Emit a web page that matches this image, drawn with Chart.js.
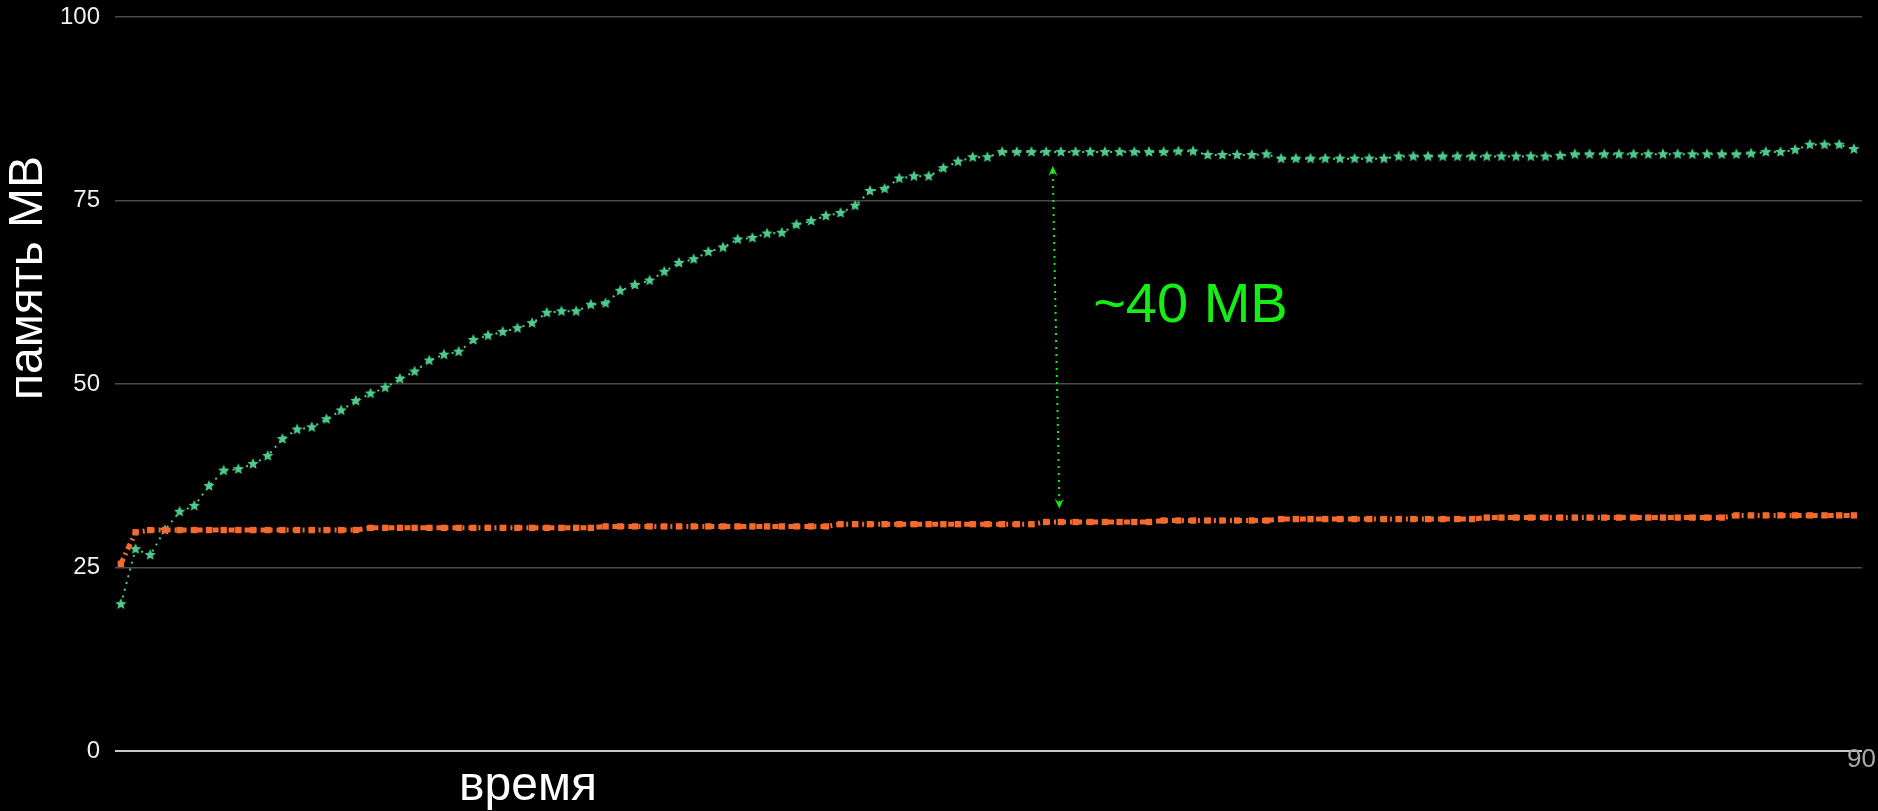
<!DOCTYPE html>
<html>
<head>
<meta charset="utf-8">
<script src="https://cdn.jsdelivr.net/npm/chart.js@4/dist/chart.umd.min.js"></script>
<style>
  html, body { margin: 0; padding: 0; background: #000; overflow: hidden; }
  canvas { display: block; }
</style>
</head>
<body>
<canvas id="memChart" width="1878" height="811"></canvas>
<script>
// память (MB) по отсчётам времени
const greenMem = [
  20.0, 27.5, 26.7, 30.1, 32.6, 33.4, 36.1, 38.2, 38.4, 39.1,
  40.2, 42.5, 43.8, 44.1, 45.2, 46.4, 47.7, 48.7, 49.5, 50.7,
  51.7, 53.2, 54.0, 54.4, 56.0, 56.6, 57.1, 57.6, 58.3, 59.7,
  59.9, 59.9, 60.8, 61.0, 62.7, 63.5, 64.1, 65.3, 66.5, 67.0,
  68.0, 68.6, 69.7, 69.9, 70.5, 70.6, 71.7, 72.2, 72.9, 73.3,
  74.3, 76.3, 76.6, 78.0, 78.3, 78.3, 79.4, 80.3, 80.9, 80.9,
  81.6, 81.6, 81.6, 81.6, 81.6, 81.6, 81.6, 81.6, 81.6, 81.6,
  81.6, 81.6, 81.7, 81.7, 81.2, 81.2, 81.2, 81.2, 81.3, 80.7,
  80.7, 80.7, 80.7, 80.7, 80.7, 80.7, 80.7, 81.0, 81.0, 81.0,
  81.0, 81.0, 81.0, 81.0, 81.0, 81.0, 81.0, 81.0, 81.1, 81.3,
  81.3, 81.3, 81.3, 81.3, 81.3, 81.3, 81.3, 81.3, 81.3, 81.3,
  81.3, 81.4, 81.6, 81.6, 81.9, 82.6, 82.6, 82.6, 82.0
];

const orangeMem = [
  25.5, 29.8, 30.1, 30.1, 30.1, 30.1, 30.1, 30.1, 30.1, 30.1,
  30.1, 30.1, 30.1, 30.1, 30.1, 30.1, 30.1, 30.4, 30.4, 30.4,
  30.4, 30.4, 30.4, 30.4, 30.4, 30.4, 30.4, 30.4, 30.4, 30.4,
  30.4, 30.4, 30.4, 30.6, 30.6, 30.6, 30.6, 30.6, 30.6, 30.6,
  30.6, 30.6, 30.6, 30.6, 30.6, 30.6, 30.6, 30.6, 30.6, 30.9,
  30.9, 30.9, 30.9, 30.9, 30.9, 30.9, 30.9, 30.9, 30.9, 30.9,
  30.9, 30.9, 30.9, 31.2, 31.2, 31.2, 31.2, 31.2, 31.2, 31.2,
  31.2, 31.4, 31.4, 31.4, 31.4, 31.4, 31.4, 31.4, 31.4, 31.6,
  31.6, 31.6, 31.6, 31.6, 31.6, 31.6, 31.6, 31.6, 31.6, 31.6,
  31.6, 31.6, 31.6, 31.8, 31.8, 31.8, 31.8, 31.8, 31.8, 31.8,
  31.8, 31.8, 31.8, 31.8, 31.8, 31.8, 31.8, 31.8, 31.8, 31.8,
  32.1, 32.1, 32.1, 32.1, 32.1, 32.1, 32.1, 32.1, 32.1
];

const yTicks = [0, 25, 50, 75, 100];
const yTitle = "память MB";
const xTitle = "время";
const gapLabel = "~40 MB";
const pageNum = "90";

// стрелка разницы: [отсчёт, MB] сверху и снизу
const gapArrowTop = [63.45, 79.7];
const gapArrowBottom = [63.9, 33.0];
const gapLabelAt = [66.2, 58.4];

const GREEN = "#4fcb8c";
const ORANGE = "#f46a2c";
const BRIGHT = "#14ee14";

function makeStar(color, r) {
    const c = document.createElement("canvas");
    const size = Math.ceil(r * 2 + 2);
    c.width = size; c.height = size;
    const g = c.getContext("2d");
    const cx = size / 2, cy = size / 2;
    g.beginPath();
    for (let i = 0; i < 10; i++) {
        const rad = i % 2 === 0 ? r : r * 0.45;
        const a = -Math.PI / 2 + i * Math.PI / 5;
        const px = cx + rad * Math.cos(a), py = cy + rad * Math.sin(a);
        if (i === 0) g.moveTo(px, py); else g.lineTo(px, py);
    }
    g.closePath();
    g.fillStyle = color;
    g.fill();
    return c;
}

const starImg = makeStar(GREEN, 6);

function drawArrowHead(ctx, x, y, angle) {
    ctx.save();
    ctx.translate(x, y);
    ctx.rotate(angle);
    ctx.beginPath();
    ctx.moveTo(0, 0);
    ctx.lineTo(-10, -4.5);
    ctx.lineTo(-6, 0);
    ctx.lineTo(-10, 4.5);
    ctx.closePath();
    ctx.fill();
    ctx.restore();
}

const extrasPlugin = {
    id: "extras",
    afterDraw(chart) {
        const ctx = chart.ctx;
        const xs = chart.scales.x, ys = chart.scales.y;
        ctx.save();

        // подписи осей
        ctx.fillStyle = "#ffffff";
        ctx.font = "48px 'Liberation Sans', Arial, sans-serif";
        ctx.textAlign = "center";
        ctx.textBaseline = "middle";
        ctx.save();
        ctx.translate(29, 278);
        ctx.rotate(-Math.PI / 2);
        ctx.fillText(yTitle, 0, 0);
        ctx.restore();
        ctx.textBaseline = "alphabetic";
        ctx.fillText(xTitle, 528, 800);

        // номер слайда
        ctx.fillStyle = "#a8a8a8";
        ctx.font = "26px 'Liberation Sans', Arial, sans-serif";
        ctx.textAlign = "left";
        ctx.textBaseline = "middle";
        ctx.fillText(pageNum, 1847, 760);

        // стрелка ~40 MB
        const x1 = xs.getPixelForValue(gapArrowTop[0]);
        const y1 = ys.getPixelForValue(gapArrowTop[1]);
        const x2 = xs.getPixelForValue(gapArrowBottom[0]);
        const y2 = ys.getPixelForValue(gapArrowBottom[1]);
        const ang = Math.atan2(y2 - y1, x2 - x1);
        ctx.strokeStyle = BRIGHT;
        ctx.fillStyle = BRIGHT;
        ctx.lineWidth = 2;
        ctx.setLineDash([2, 5]);
        ctx.beginPath();
        ctx.moveTo(x1, y1 + 6);
        ctx.lineTo(x2, y2 - 6);
        ctx.stroke();
        ctx.setLineDash([]);
        drawArrowHead(ctx, x1, y1, ang + Math.PI);
        drawArrowHead(ctx, x2, y2, ang);

        ctx.font = "56px 'Liberation Sans', Arial, sans-serif";
        ctx.textAlign = "left";
        ctx.textBaseline = "alphabetic";
        ctx.fillText(gapLabel, xs.getPixelForValue(gapLabelAt[0]), ys.getPixelForValue(gapLabelAt[1]));

        ctx.restore();
    }
};

const ctx = document.getElementById("memChart").getContext("2d");
new Chart(ctx, {
    type: "line",
    data: {
        datasets: [
            {
                label: "orange",
                data: orangeMem.map((v, i) => ({ x: i, y: v })),
                borderColor: ORANGE,
                backgroundColor: ORANGE,
                borderWidth: 5,
                borderDash: [6, 4, 2, 4],
                pointStyle: "rect",
                pointRadius: 4.5,
                pointBorderWidth: 0,
                tension: 0
            },
            {
                label: "green",
                data: greenMem.map((v, i) => ({ x: i, y: v })),
                borderColor: GREEN,
                backgroundColor: GREEN,
                borderWidth: 2,
                borderDash: [2, 5],
                pointStyle: starImg,
                pointRadius: 5,
                tension: 0
            }
        ]
    },
    options: {
        responsive: false,
        animation: false,
        devicePixelRatio: 1,
        layout: { padding: { top: 17, right: 16, bottom: 60, left: 0 } },
        plugins: {
            legend: { display: false },
            tooltip: { enabled: false }
        },
        scales: {
            x: {
                type: "linear",
                display: false,
                min: -0.4,
                max: 118.55
            },
            y: {
                min: 0,
                max: 100,
                afterFit: (s) => {
                    s.width = 115;
                    s.paddingTop = 0;
                    s.paddingBottom = 0;
                },
                afterBuildTicks: (s) => { s.ticks = yTicks.map(v => ({ value: v })); },
                border: { display: false },
                grid: {
                    drawTicks: false,
                    color: (c) => c.tick && c.tick.value === 0 ? "#c8c8c8" : "#4a4a4a",
                    lineWidth: (c) => c.tick && c.tick.value === 0 ? 2 : 1.5
                },
                ticks: {
                    padding: 15,
                    color: "#f0f0f0",
                    font: { size: 24, family: "'Liberation Sans', Arial, sans-serif" }
                }
            }
        }
    },
    plugins: [extrasPlugin]
});
</script>
</body>
</html>
